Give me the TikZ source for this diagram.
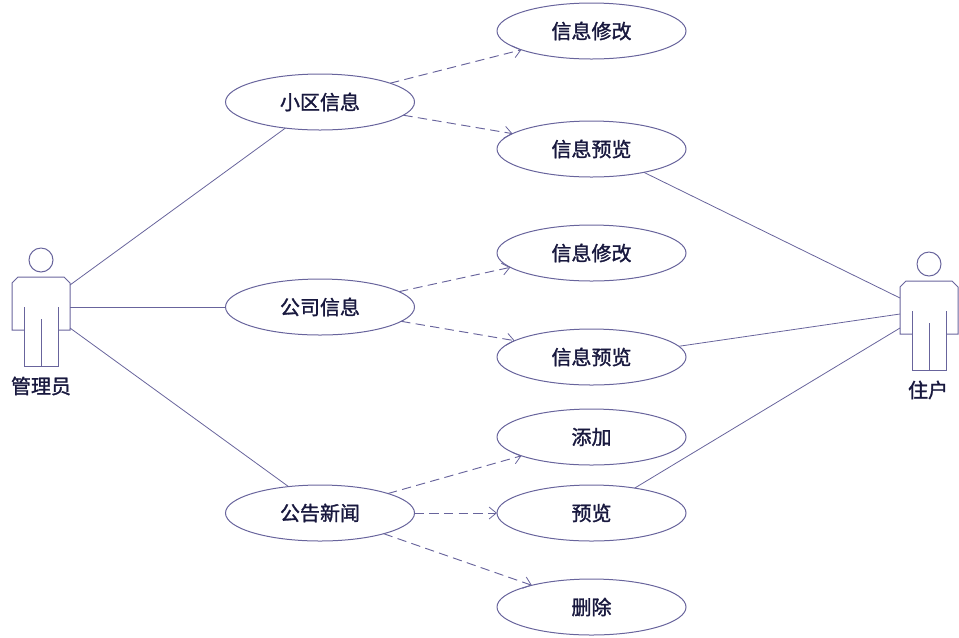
\documentclass[tikz,border=0pt]{standalone}
\usepackage{fontspec}
\usetikzlibrary{arrows.meta,shapes.geometric}
\newfontfamily\cjkf[AutoFakeBold=1.4]{Noto Sans CJK SC}
\definecolor{umlline}{RGB}{104,100,156}
\definecolor{umltext}{RGB}{24,24,62}
\newcommand{\ut}[1]{\raisebox{0.7pt}{#1}}
\tikzset{
  x=0.75pt,y=-0.75pt,
  usecase/.style={ellipse,draw=umlline,line width=0.75pt,minimum width=141.75pt,minimum height=42pt,inner sep=0pt,outer sep=0pt,text=umltext,font=\cjkf\bfseries\fontsize{15}{16}\selectfont},
  actorline/.style={draw=umlline,line width=0.75pt,line join=miter},
  assoc/.style={draw=umlline,line width=0.6pt},
  dep/.style={draw=umlline,line width=0.7pt,dash pattern=on 7pt off 4pt,-{Straight Barb[length=5.5pt,width=9pt,line width=0.6pt]}},
  actorname/.style={text=umltext,inner sep=0pt,font=\cjkf\bfseries\fontsize{15}{16}\selectfont}
}
\newcommand{\actorfig}{%
  \draw[actorline] (41,260) circle[radius=12];
  \draw[actorline] (24,330) -- (12,330) -- (12,283) -- (18,277) -- (64,277) -- (70,283) -- (70,330) -- (58,330);
  \draw[actorline] (24,307) -- (24,366) -- (58,366) -- (58,307);
  \draw[actorline] (41,319) -- (41,366);
}
\begin{document}
\begin{tikzpicture}
\useasboundingbox (0,0) rectangle (959,637);
% actors
\actorfig
\begin{scope}[shift={(888,4)}]\actorfig\end{scope}
\node[actorname] (admin) at (41,386) {管理员};
\node[actorname] (user) at (928,390) {住户};
\coordinate (adminA) at (70,285);
\coordinate (adminB) at (70,307);
\coordinate (adminC) at (70,328);
\coordinate (userA) at (900,298);
\coordinate (userB) at (900,314);
\coordinate (userC) at (900,328);
% use cases
\node[usecase] (xq) at (320,102) {\ut{小区信息}};
\node[usecase] (gs) at (320,307) {公司信息};
\node[usecase] (gg) at (320,513) {\ut{公告新闻}};
\node[usecase] (m1) at (591.5,31) {\ut{信息修改}};
\node[usecase] (p1) at (591.5,149) {\ut{信息预览}};
\node[usecase] (m2) at (591.5,253) {\ut{信息修改}};
\node[usecase] (p2) at (591.5,357) {\ut{信息预览}};
\node[usecase] (tj) at (591.5,437) {添加};
\node[usecase] (yl) at (591.5,513) {\ut{预览}};
\node[usecase] (sc) at (591.5,607) {删除};
% associations
\draw[assoc] (adminA) -- (xq.217.4);
\draw[assoc] (adminB) -- (gs.west);
\draw[assoc] (adminC) -- (gg.140.5);
\draw[assoc] (p1.-24.3) -- (userA);
\draw[assoc] (p2.7.8) -- (userB);
\draw[assoc] (yl.30.8) -- (userC);
% dependencies
\draw[dep] (xq.15.2) -- (m1.195);
\draw[dep] (xq.-9.6) -- (p1.169.8);
\draw[dep] (gs.11.6) -- (m2.190.6);
\draw[dep] (gs.-10.6) -- (p2.168.4);
\draw[dep] (gg.16.4) -- (tj.195.4);
\draw[dep] (gg.east) -- (yl.west);
\draw[dep] (gg.-18.7) -- (sc.160.5);
\end{tikzpicture}
\end{document}
